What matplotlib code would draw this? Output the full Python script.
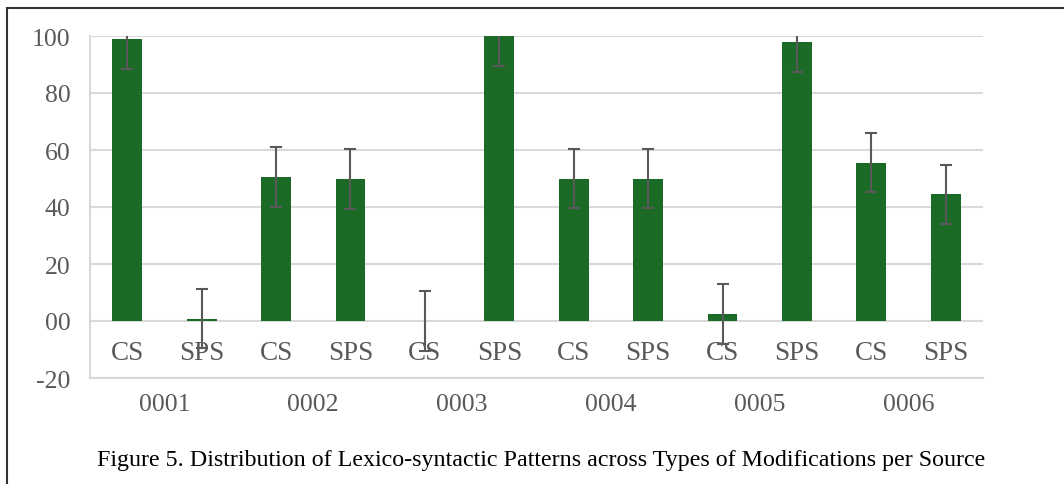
import matplotlib.pyplot as plt
import numpy as np
from matplotlib.patches import Rectangle

sources = ['0001', '0002', '0003', '0004', '0005', '0006']
types = ['CS', 'SPS']
valores = [98.8, 0.8, 50.5, 49.8, 0.0, 100.0, 50.0, 50.0, 2.5, 97.8, 55.5, 44.4]
errores = [10.4, 10.4, 10.4, 10.4, 10.4, 10.4, 10.4, 10.4, 10.4, 10.4, 10.4, 10.4]
yticks = [-20, 0, 20, 40, 60, 80, 100]
ytick_labels = ['-20', '00', '20', '40', '60', '80', '100']
caption = 'Figure 5. Distribution of Lexico-syntactic Patterns across Types of Modifications per Source'

def main():
    plt.rcParams['font.family'] = ['Liberation Serif', 'DejaVu Serif']
    gris = '#595959'
    verde = '#1B6A26'

    fig = plt.figure(figsize=(10.64, 4.85), dpi=100)
    ax = fig.add_axes([90 / 1064, 106 / 485, 893 / 1064, 342 / 485])

    x = np.arange(len(valores))
    ax.bar(x, valores, width=0.4, color=verde, zorder=3)
    ax.errorbar(x, valores, yerr=errores, fmt='none', ecolor=gris,
                elinewidth=1.5, capsize=4.5, capthick=1.5, zorder=4)

    ax.set_xlim(-0.5, len(valores) - 0.5)
    ax.set_ylim(-20, 100)
    ax.set_yticks(yticks)
    ax.set_yticklabels(ytick_labels, fontsize=18.5, color=gris)
    ax.tick_params(axis='y', length=0, pad=14)
    ax.set_xticks([])
    ax.grid(axis='y', color='#d9d9d9', linewidth=1.5, zorder=0)

    for s in ['top', 'right']:
        ax.spines[s].set_visible(False)
    ax.spines['left'].set_color('#d9d9d9')
    ax.spines['left'].set_linewidth(1.5)
    ax.spines['bottom'].set_color('#d9d9d9')
    ax.spines['bottom'].set_linewidth(1.5)

    # etiquetas internas (CS / SPS)
    for i in x:
        ax.text(i, -11, types[i % 2], ha='center', va='center',
                fontsize=19.5, color=gris, zorder=2)
    # etiquetas externas (fuente)
    for j, s in enumerate(sources):
        ax.text(2 * j + 0.5, -29, s, ha='center', va='center',
                fontsize=18.5, color=gris, clip_on=False)

    fig.text(541 / 1064, 1 - 461 / 485, caption, ha='center', va='center',
             fontsize=17.3, color='black')

    # marco exterior
    fig.patches.append(Rectangle((7 / 1064, -0.1), 1.2, 1.1 - 9 / 485,
                                 transform=fig.transFigure, fill=False,
                                 edgecolor='#333333', linewidth=1.5))

    fig.savefig('out.png', dpi=100)

if __name__ == '__main__':
    main()
